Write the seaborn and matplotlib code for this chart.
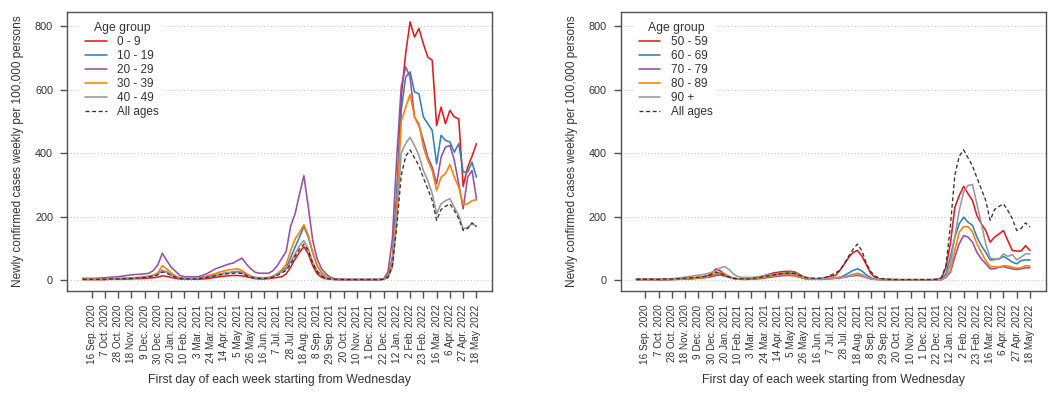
import numpy as np
import pandas as pd
import matplotlib
matplotlib.use("Agg")
import matplotlib.pyplot as plt
import seaborn as sns

# Semanas (quarta-feira) de 2 Sep. 2020 a 18 May 2022
semanas = np.arange(90)

tick_labels = ["16 Sep. 2020", "7 Oct. 2020", "28 Oct. 2020", "18 Nov. 2020", "9 Dec. 2020",
               "30 Dec. 2020", "20 Jan. 2021", "10 Feb. 2021", "3 Mar. 2021", "24 Mar. 2021",
               "14 Apr. 2021", "5 May 2021", "26 May 2021", "16 Jun. 2021", "7 Jul. 2021",
               "28 Jul. 2021", "18 Aug. 2021", "8 Sep. 2021", "29 Sep. 2021", "20 Oct. 2021",
               "10 Nov. 2021", "1 Dec. 2021", "22 Dec. 2021", "12 Jan. 2022", "2 Feb. 2022",
               "23 Feb. 2022", "16 Mar. 2022", "6 Apr. 2022", "27 Apr. 2022", "18 May 2022"]
tick_pos = list(range(2, 90, 3))

# Painel esquerdo
age0_9 = [1, 1, 1, 1, 1, 1, 2, 2, 2, 2,
          3, 3, 4, 4, 5, 6, 7, 9, 13, 11,
          8, 5, 3, 2, 2, 2, 2, 3, 4, 6,
          8, 10, 12, 13, 14, 14, 13, 10, 7, 4,
          3, 3, 4, 6, 8, 10, 19, 40, 66, 87,
          105, 82, 45, 19, 8, 4, 2, 1, 1, 1,
          1, 1, 1, 1, 1, 1, 1, 1, 2, 12,
          60, 250, 578, 714, 814, 766, 793, 745, 703, 693,
          487, 545, 493, 535, 514, 508, 295, 355, 390, 430]
age10_19 = [2, 2, 2, 2, 2, 2, 3, 3, 4, 4,
            5, 5, 6, 7, 9, 11, 14, 20, 30, 25,
            17, 10, 6, 4, 4, 4, 5, 7, 9, 12,
            15, 18, 21, 23, 25, 27, 24, 17, 10, 6,
            5, 5, 7, 10, 18, 30, 38, 70, 103, 135,
            168, 135, 85, 45, 22, 9, 4, 2, 1, 1,
            1, 1, 1, 1, 1, 1, 1, 1, 2, 10,
            70, 280, 535, 640, 656, 593, 587, 514, 493, 472,
            366, 456, 440, 435, 403, 430, 340, 340, 371, 324]
age20_29 = [5, 5, 5, 5, 6, 7, 8, 9, 10, 12,
            14, 16, 17, 18, 19, 21, 30, 48, 84, 61,
            40, 27, 14, 10, 10, 10, 10, 14, 19, 27,
            35, 40, 45, 50, 53, 61, 69, 50, 35, 24,
            21, 21, 21, 29, 45, 68, 90, 170, 208, 270,
            329, 229, 124, 66, 35, 19, 8, 4, 3, 2,
            1, 1, 1, 1, 1, 1, 1, 1, 3, 25,
            130, 390, 610, 672, 640, 514, 487, 440, 387, 356,
            303, 387, 419, 424, 377, 303, 224, 324, 345, 256]
age30_39 = [3, 3, 3, 3, 3, 3, 4, 4, 5, 5,
            6, 6, 7, 8, 10, 12, 16, 22, 45, 35,
            22, 12, 6, 4, 4, 4, 5, 8, 12, 16,
            20, 25, 28, 32, 33, 35, 30, 20, 12, 8,
            7, 7, 8, 12, 20, 32, 50, 92, 129, 150,
            174, 140, 87, 45, 24, 10, 4, 2, 1, 1,
            1, 1, 1, 1, 1, 1, 1, 1, 2, 8,
            60, 230, 500, 545, 585, 514, 493, 419, 377, 345,
            282, 324, 335, 364, 324, 292, 238, 240, 250, 253]
age40_49 = [2, 2, 2, 2, 2, 2, 3, 3, 4, 4,
            5, 6, 7, 8, 9, 11, 14, 18, 30, 25,
            16, 10, 6, 4, 4, 4, 5, 7, 9, 12,
            15, 18, 21, 23, 24, 25, 22, 16, 10, 7,
            6, 6, 7, 10, 18, 25, 35, 56, 82, 108,
            124, 98, 56, 29, 14, 6, 3, 2, 1, 1,
            1, 1, 1, 1, 1, 1, 1, 1, 2, 6,
            40, 190, 400, 430, 450, 424, 393, 345, 314, 272,
            208, 240, 250, 256, 229, 203, 161, 166, 177, 170]
all_ages = [2, 2, 2, 2, 2, 2, 3, 3, 3, 4,
            4, 5, 6, 7, 8, 10, 12, 16, 25, 21,
            14, 9, 5, 4, 3, 3, 4, 6, 8, 11,
            13, 16, 18, 20, 21, 22, 20, 14, 9, 6,
            5, 5, 6, 9, 15, 22, 30, 50, 75, 97,
            113, 92, 52, 26, 12, 5, 3, 2, 1, 1,
            1, 1, 1, 1, 1, 1, 1, 1, 2, 8,
            45, 170, 330, 390, 410, 385, 360, 322, 287, 250,
            188, 222, 232, 240, 219, 193, 156, 162, 180, 167]

# Painel direito
age50_59 = [2, 2, 2, 2, 2, 1, 1, 2, 2, 3,
            4, 5, 6, 7, 8, 10, 13, 20, 35, 28,
            18, 10, 5, 3, 3, 3, 4, 6, 9, 14,
            18, 22, 24, 26, 27, 27, 24, 16, 9, 5,
            4, 4, 5, 8, 12, 14, 30, 50, 71, 87,
            93, 75, 48, 20, 8, 3, 2, 1, 1, 1,
            1, 1, 1, 1, 1, 1, 1, 1, 2, 5,
            40, 114, 229, 266, 295, 272, 250, 203, 177, 156,
            119, 135, 145, 156, 124, 93, 91, 91, 108, 93]
age60_69 = [1, 1, 1, 1, 1, 1, 1, 1, 2, 2,
            3, 3, 4, 5, 6, 8, 10, 13, 18, 20,
            15, 9, 5, 3, 2, 2, 3, 4, 6, 9,
            12, 15, 17, 19, 20, 20, 17, 11, 6, 3,
            3, 3, 3, 4, 5, 6, 8, 14, 22, 30,
            35, 28, 16, 7, 3, 2, 1, 1, 1, 1,
            0, 0, 0, 0, 0, 0, 0, 1, 1, 2,
            19, 72, 135, 177, 198, 182, 172, 135, 108, 87,
            63, 64, 66, 74, 66, 56, 51, 61, 63, 63]
age70_79 = [1, 1, 1, 1, 1, 1, 1, 1, 1, 2,
            2, 3, 3, 4, 5, 6, 8, 10, 14, 15,
            12, 8, 4, 3, 2, 2, 2, 3, 4, 6,
            8, 10, 12, 13, 14, 14, 12, 8, 4, 2,
            2, 2, 2, 3, 4, 5, 6, 8, 11, 13,
            14, 12, 7, 3, 2, 1, 1, 1, 0, 0,
            0, 0, 0, 0, 0, 0, 0, 0, 0, 1,
            8, 24, 72, 114, 140, 135, 119, 87, 66, 51,
            35, 35, 40, 42, 38, 35, 33, 35, 38, 38]
age80_89 = [1, 1, 1, 1, 1, 1, 1, 1, 1, 2,
            2, 3, 4, 5, 6, 8, 10, 14, 20, 24,
            18, 10, 5, 3, 2, 2, 3, 4, 6, 8,
            11, 13, 15, 16, 17, 17, 14, 9, 5, 3,
            2, 2, 2, 3, 4, 6, 8, 10, 13, 15,
            17, 14, 8, 4, 2, 1, 1, 1, 0, 0,
            0, 0, 0, 0, 0, 0, 0, 0, 0, 1,
            8, 29, 93, 151, 168, 168, 151, 114, 87, 61,
            42, 42, 40, 45, 44, 40, 37, 38, 45, 44]
age90p = [2, 2, 2, 2, 2, 2, 3, 3, 4, 5,
          7, 9, 11, 13, 15, 17, 20, 24, 30, 38,
          42, 32, 18, 10, 8, 8, 8, 9, 11, 14,
          16, 18, 20, 22, 23, 24, 21, 14, 8, 5,
          4, 4, 4, 5, 6, 7, 8, 9, 13, 18,
          21, 17, 9, 4, 2, 1, 1, 1, 1, 0,
          0, 0, 0, 0, 0, 0, 0, 0, 0, 1,
          10, 50, 135, 219, 277, 298, 301, 240, 177, 114,
          69, 66, 66, 82, 74, 80, 63, 72, 82, 82]

cores = ["#E41A1C", "#377EB8", "#984EA3", "#FF7F00", "#999999"]

paineis = [
    (["0 - 9", "10 - 19", "20 - 29", "30 - 39", "40 - 49"],
     [age0_9, age10_19, age20_29, age30_39, age40_49]),
    (["50 - 59", "60 - 69", "70 - 79", "80 - 89", "90 +"],
     [age50_59, age60_69, age70_79, age80_89, age90p]),
]

sns.set_style("white")
plt.rcParams['font.family'] = ['Liberation Sans', 'DejaVu Sans']
cor_texto = "#333333"
cor_eixo = "#505050"

fig = plt.figure(figsize=(10.61, 3.94), dpi=100)
posicoes = [[0.0631, 0.2622, 0.4008, 0.7081], [0.585, 0.2622, 0.4006, 0.7081]]

for pos, (nomes, series) in zip(posicoes, paineis):
    ax = fig.add_axes(pos)
    for nome, valores, cor in zip(nomes, series, cores):
        sns.lineplot(x=semanas, y=valores, color=cor, lw=1.15, label=nome, ax=ax)
    sns.lineplot(x=semanas, y=all_ages, color="#333333", lw=0.95, label="All ages", ax=ax)
    ax.get_lines()[-1].set_dashes((3, 2))

    ax.set_xlim(-3.56, 92.56)
    ax.set_ylim(-34, 846)
    ax.set_yticks([0, 200, 400, 600, 800])
    ax.set_xticks(tick_pos)
    ax.set_xticklabels(tick_labels, rotation=90, fontsize=7.2, color=cor_texto)
    ax.tick_params(axis='y', labelsize=7.8, labelcolor=cor_texto, length=5, width=1,
                   color=cor_eixo, pad=5, left=True)
    ax.tick_params(axis='x', length=5, width=1, color=cor_eixo, pad=5, bottom=True)
    ax.grid(axis='y', linestyle=(0, (1, 2)), color="#c8c8c8", lw=0.8)
    ax.set_axisbelow(True)
    for sp in ax.spines.values():
        sp.set_visible(True)
        sp.set_color(cor_eixo)
        sp.set_linewidth(1.0)

    ax.set_ylabel("Newly confirmed cases weekly per 100,000 persons", fontsize=8.5,
                  color=cor_texto, labelpad=8)
    ax.set_xlabel("First day of each week starting from Wednesday", fontsize=8.8,
                  color=cor_texto, labelpad=7)

    leg = ax.legend(title="Age group", loc="upper left", bbox_to_anchor=(0.02, 1.0),
                    fontsize=8.5, title_fontsize=8.8, frameon=True, fancybox=False,
                    handlelength=1.8, handletextpad=0.9, labelspacing=0.17,
                    borderpad=0.35)
    leg.get_frame().set_edgecolor("none")
    leg.get_frame().set_facecolor("white")
    leg.get_frame().set_alpha(1)
    for t in leg.get_texts():
        t.set_color(cor_texto)
    leg.get_title().set_color(cor_texto)

fig.savefig("out.png", dpi=100)
